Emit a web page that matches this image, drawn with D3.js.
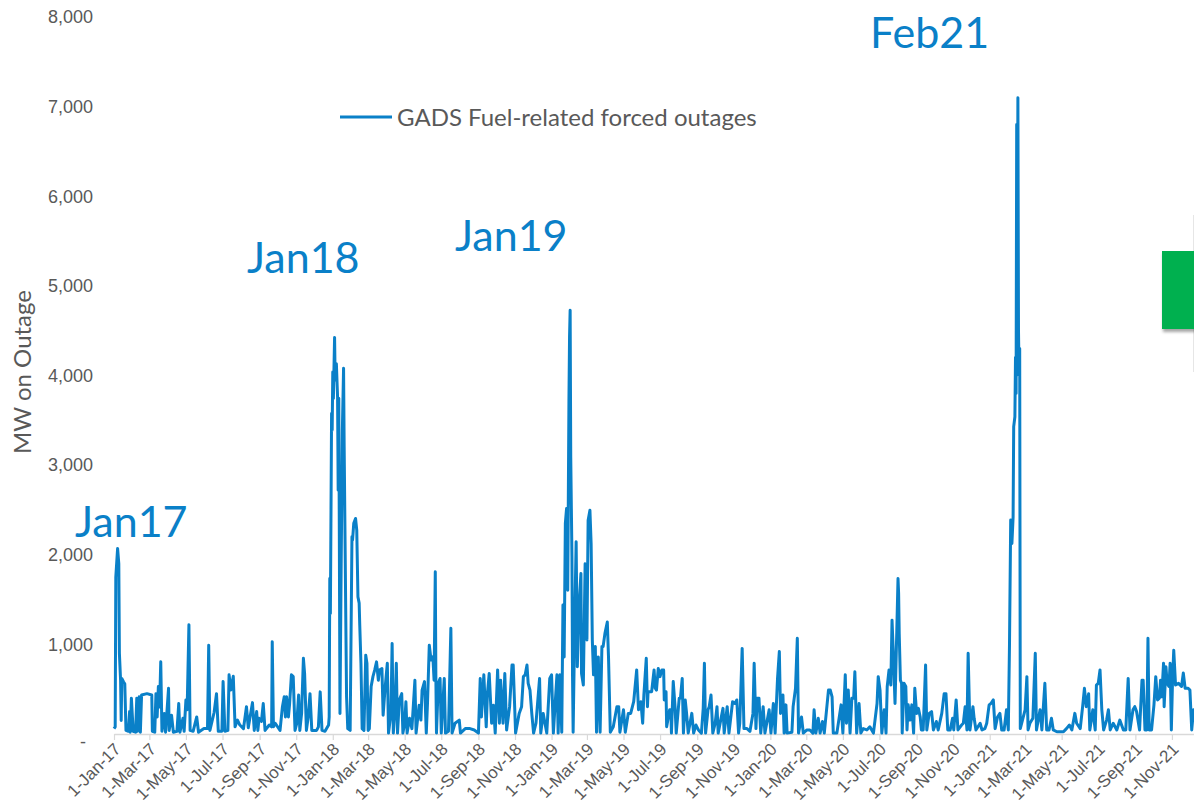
<!DOCTYPE html>
<html>
<head>
<meta charset="utf-8">
<script src="https://cdn.jsdelivr.net/npm/d3@7"></script>
<style>
  body { margin: 0; background: #fff; }
  svg { display: block; font-family: Lato, "Open Sans", sans-serif; }
</style>
</head>
<body>
<svg id="chart" width="1194" height="805"></svg>
<script>
// MW on outage (date, MW)
const mw2017 = [
  ["2017-01-01",60],["2017-01-03",80],["2017-01-04",1750],["2017-01-07",2070],["2017-01-09",1900],["2017-01-10",900],
  ["2017-01-12",600],["2017-01-13",150],["2017-01-14",620],["2017-01-17",580],["2017-01-19",560],["2017-01-21",40],
  ["2017-01-25",30],["2017-01-27",250],["2017-01-28",20],["2017-01-30",400],["2017-02-02",30],["2017-02-06",20],
  ["2017-02-08",400],["2017-02-09",30],["2017-02-12",415],["2017-02-14",20],["2017-02-16",435],["2017-02-25",450],
  ["2017-03-05",435],["2017-03-06",30],["2017-03-10",20],["2017-03-12",450],["2017-03-14",190],["2017-03-16",530],
  ["2017-03-18",300],["2017-03-20",805],["2017-03-22",30],["2017-03-26",230],["2017-03-28",20],["2017-04-02",510],
  ["2017-04-03",40],["2017-04-07",210],["2017-04-10",20],["2017-04-16",30],["2017-04-19",340],["2017-04-21",20],
  ["2017-04-26",175],["2017-04-28",30],["2017-05-01",380],["2017-05-03",270],["2017-05-06",1220],["2017-05-08",40],
  ["2017-05-13",30],["2017-05-19",190],["2017-05-22",20],["2017-05-31",60],["2017-06-06",60],["2017-06-08",990],
  ["2017-06-10",40],["2017-06-17",240],["2017-06-21",450],["2017-06-24",30],["2017-06-30",30],["2017-07-02",585],
  ["2017-07-05",30],["2017-07-10",40],["2017-07-12",660],["2017-07-15",490],["2017-07-19",645],["2017-07-22",80],
  ["2017-07-26",155],["2017-07-30",100],["2017-08-05",60],["2017-08-10",305],["2017-08-13",70],["2017-08-20",350],
  ["2017-08-23",40],["2017-08-27",250],["2017-08-29",40],["2017-08-31",175],["2017-09-04",140],["2017-09-07",340],
  ["2017-09-10",40],["2017-09-17",100],["2017-09-21",80],["2017-09-22",1030],["2017-09-24",80],["2017-09-27",120],
  ["2017-10-05",40],["2017-10-09",305],["2017-10-12",415],["2017-10-14",190],["2017-10-16",415],["2017-10-19",190],
  ["2017-10-21",340],["2017-10-24",660],["2017-10-27",640],["2017-10-30",40],["2017-11-02",120],["2017-11-05",435],
  ["2017-11-07",40],["2017-11-10",230],["2017-11-13",845],["2017-11-15",675],["2017-11-18",40],["2017-11-21",190],
  ["2017-11-24",450],["2017-11-27",40],["2017-12-05",40],["2017-12-08",80],["2017-12-11",470],["2017-12-14",40],
  ["2017-12-19",30],["2017-12-25",100],["2017-12-26",190],["2017-12-27",1736],["2017-12-28",1345],["2017-12-30",3576],
  ["2017-12-31",3390]
];
const mw2018 = [
  ["2018-01-01",4040],["2018-01-02",3745],["2018-01-04",4424],["2018-01-05",3950],["2018-01-07",4130],["2018-01-09",3760],
  ["2018-01-10",2720],["2018-01-11",3745],["2018-01-12",2090],["2018-01-13",230],["2018-01-15",1900],["2018-01-17",3390],
  ["2018-01-19",4080],["2018-01-20",3200],["2018-01-23",1085],["2018-01-24",415],["2018-01-26",60],["2018-01-30",40],
  ["2018-02-02",2200],["2018-02-03",2165],["2018-02-05",2350],["2018-02-08",2405],["2018-02-10",2275],["2018-02-12",1530],
  ["2018-02-14",1460],["2018-02-15",1215],["2018-02-17",790],["2018-02-19",60],["2018-02-22",40],["2018-02-25",880],
  ["2018-02-27",790],["2018-03-01",40],["2018-03-03",60],["2018-03-06",530],["2018-03-09",640],["2018-03-12",715],
  ["2018-03-15",805],["2018-03-18",600],["2018-03-20",713],["2018-03-24",730],["2018-03-26",210],["2018-03-29",490],
  ["2018-04-02",790],["2018-04-04",10],["2018-04-08",230],["2018-04-10",1010],["2018-04-12",10],["2018-04-15",300],
  ["2018-04-17",790],["2018-04-19",10],["2018-04-22",380],["2018-04-26",450],["2018-04-28",10],["2018-05-01",120],
  ["2018-05-03",360],["2018-05-05",10],["2018-05-09",175],["2018-05-13",60],["2018-05-18",600],["2018-05-20",10],
  ["2018-05-25",320],["2018-05-28",155],["2018-05-30",490],["2018-06-03",585],["2018-06-06",10],["2018-06-08",340],
  ["2018-06-11",990],["2018-06-14",825],["2018-06-17",860],["2018-06-19",600],["2018-06-21",1810],["2018-06-22",620],
  ["2018-06-23",10],["2018-06-26",565],["2018-06-29",620],["2018-07-01",10],["2018-07-06",620],["2018-07-08",10],
  ["2018-07-13",30],["2018-07-17",1180],["2018-07-19",10],["2018-07-24",120],["2018-07-31",155],["2018-08-02",10],
  ["2018-08-10",60],["2018-08-18",60],["2018-08-25",45],["2018-09-01",10],["2018-09-04",620],["2018-09-06",190],
  ["2018-09-10",660],["2018-09-14",80],["2018-09-16",450],["2018-09-19",675],["2018-09-23",120],["2018-09-26",320],
  ["2018-09-29",10],["2018-10-03",715],["2018-10-06",120],["2018-10-08",600],["2018-10-12",120],["2018-10-15",675],
  ["2018-10-18",45],["2018-10-23",305],["2018-10-27",770],["2018-10-29",770],["2018-11-02",10],["2018-11-05",120],
  ["2018-11-08",230],["2018-11-12",305],["2018-11-15",640],["2018-11-18",660],["2018-11-21",770],["2018-11-23",565],
  ["2018-11-26",490],["2018-11-29",230],["2018-12-02",10],["2018-12-06",120],["2018-12-12",620],["2018-12-14",10],
  ["2018-12-18",230],["2018-12-24",10],["2018-12-29",620]
];
const mw2019 = [
  ["2019-01-01",660],["2019-01-04",10],["2019-01-10",660],["2019-01-12",10],["2019-01-15",660],["2019-01-18",20],
  ["2019-01-20",1440],["2019-01-22",860],["2019-01-24",2350],["2019-01-26",2515],["2019-01-28",1605],["2019-01-30",3720],
  ["2019-01-31",4430],["2019-02-01",4727],["2019-02-02",3090],["2019-02-04",1980],["2019-02-05",640],["2019-02-06",20],
  ["2019-02-09",1380],["2019-02-11",2145],["2019-02-13",750],["2019-02-16",1457],["2019-02-19",1790],["2019-02-20",675],
  ["2019-02-23",546],["2019-02-26",1900],["2019-03-01",1050],["2019-03-03",2385],["2019-03-06",2497],["2019-03-08",2125],
  ["2019-03-10",1050],["2019-03-12",660],["2019-03-15",975],["2019-03-17",20],["2019-03-20",860],["2019-03-23",20],
  ["2019-03-26",975],["2019-03-28",975],["2019-03-31",1120],["2019-04-04",1250],["2019-04-06",860],["2019-04-09",20],
  ["2019-04-14",80],["2019-04-20",305],["2019-04-23",305],["2019-04-25",20],["2019-05-01",270],["2019-05-04",20],
  ["2019-05-09",230],["2019-05-13",230],["2019-05-18",360],["2019-05-23",715],["2019-05-26",270],["2019-05-30",360],
  ["2019-06-02",120],["2019-06-04",435],["2019-06-08",845],["2019-06-10",305],["2019-06-11",472],["2019-06-17",472],
  ["2019-06-21",715],["2019-06-23",510],["2019-06-25",490],["2019-06-28",730],["2019-07-01",640],["2019-07-04",715],
  ["2019-07-07",715],["2019-07-08",380],["2019-07-11",472],["2019-07-12",80],["2019-07-17",270],["2019-07-19",270],
  ["2019-07-20",10],["2019-07-23",585],["2019-07-26",305],["2019-07-28",10],["2019-08-02",400],["2019-08-04",400],
  ["2019-08-07",620],["2019-08-09",10],["2019-08-12",380],["2019-08-14",250],["2019-08-17",10],["2019-08-23",230],
  ["2019-08-26",10],["2019-08-30",100],["2019-09-03",45],["2019-09-08",10],["2019-09-11",286],["2019-09-13",790],
  ["2019-09-15",10],["2019-09-19",270],["2019-09-21",305],["2019-09-24",435],["2019-09-27",10],["2019-10-01",120],
  ["2019-10-04",305],["2019-10-06",10],["2019-10-14",286],["2019-10-16",10],["2019-10-21",305],["2019-10-24",10],
  ["2019-10-30",360],["2019-11-03",340],["2019-11-06",380],["2019-11-09",10],["2019-11-11",120],["2019-11-15",955],
  ["2019-11-18",60],["2019-11-23",60],["2019-11-28",30],["2019-12-03",230],["2019-12-05",790],["2019-12-08",60],
  ["2019-12-10",400],["2019-12-13",400],["2019-12-16",10],["2019-12-20",305],["2019-12-23",10],["2019-12-30",270]
];
const mw2020 = [
  ["2020-01-02",10],["2020-01-06",340],["2020-01-09",10],["2020-01-13",620],["2020-01-16",920],["2020-01-18",230],
  ["2020-01-22",435],["2020-01-24",10],["2020-01-27",325],["2020-01-29",10],["2020-02-06",20],["2020-02-08",305],
  ["2020-02-12",510],["2020-02-15",1067],["2020-02-17",10],["2020-02-22",190],["2020-02-25",10],["2020-03-02",45],
  ["2020-03-07",45],["2020-03-12",10],["2020-03-14",270],["2020-03-17",10],["2020-03-21",175],["2020-03-24",10],
  ["2020-03-28",140],["2020-03-31",10],["2020-04-07",490],["2020-04-10",490],["2020-04-13",415],["2020-04-15",10],
  ["2020-04-21",10],["2020-04-28",325],["2020-05-01",10],["2020-05-05",660],["2020-05-07",120],["2020-05-10",490],
  ["2020-05-13",10],["2020-05-16",400],["2020-05-19",400],["2020-05-21",695],["2020-05-24",10],["2020-05-28",340],
  ["2020-05-31",10],["2020-06-04",60],["2020-06-10",45],["2020-06-15",80],["2020-06-21",10],["2020-06-27",340],
  ["2020-06-29",640],["2020-07-02",490],["2020-07-05",10],["2020-07-09",270],["2020-07-12",10],["2020-07-14",530],
  ["2020-07-17",715],["2020-07-20",546],["2020-07-22",1270],["2020-07-24",935],["2020-07-27",340],["2020-07-30",1160],
  ["2020-08-01",1735],["2020-08-02",1570],["2020-08-03",1120],["2020-08-05",600],["2020-08-07",565],["2020-08-08",10],
  ["2020-08-11",565],["2020-08-14",530],["2020-08-16",45],["2020-08-18",325],["2020-08-21",155],["2020-08-24",325],
  ["2020-08-27",10],["2020-08-29",510],["2020-09-01",230],["2020-09-04",286],["2020-09-07",190],["2020-09-09",45],
  ["2020-09-12",45],["2020-09-16",770],["2020-09-18",45],["2020-09-22",230],["2020-09-26",250],["2020-09-29",45],
  ["2020-10-04",140],["2020-10-07",45],["2020-10-13",230],["2020-10-17",450],["2020-10-20",450],["2020-10-23",45],
  ["2020-10-27",45],["2020-10-31",175],["2020-11-02",45],["2020-11-06",380],["2020-11-09",45],["2020-11-15",100],
  ["2020-11-18",120],["2020-11-21",305],["2020-11-24",45],["2020-11-26",900],["2020-11-29",45],["2020-12-04",305],
  ["2020-12-06",175],["2020-12-09",45],["2020-12-16",120],["2020-12-19",45],["2020-12-24",60],["2020-12-27",120],
  ["2020-12-31",325]
];
const mw2021 = [
  ["2021-01-03",340],["2021-01-07",380],["2021-01-10",60],["2021-01-14",190],["2021-01-18",230],["2021-01-21",45],
  ["2021-01-25",45],["2021-01-29",270],["2021-02-01",45],["2021-02-03",1010],["2021-02-05",2387],["2021-02-07",2126],
  ["2021-02-09",2420],["2021-02-10",3430],["2021-02-12",3540],["2021-02-13",4200],["2021-02-14",3800],["2021-02-15",6800],
  ["2021-02-16",5000],["2021-02-17",7100],["2021-02-18",4500],["2021-02-19",4000],["2021-02-20",4300],["2021-02-21",60],
  ["2021-03-01",270],["2021-03-04",640],["2021-03-06",45],["2021-03-09",120],["2021-03-14",175],["2021-03-18",900],
  ["2021-03-20",45],["2021-03-26",270],["2021-03-29",45],["2021-04-03",565],["2021-04-06",45],["2021-04-10",45],
  ["2021-04-14",175],["2021-04-17",45],["2021-04-23",25],["2021-04-28",25],["2021-05-04",25],["2021-05-09",60],
  ["2021-05-14",100],["2021-05-18",45],["2021-05-23",230],["2021-05-26",120],["2021-06-01",60],["2021-06-05",305],
  ["2021-06-08",510],["2021-06-11",305],["2021-06-15",450],["2021-06-17",45],["2021-06-22",270],["2021-06-26",45],
  ["2021-06-28",546],["2021-07-01",565],["2021-07-04",715],["2021-07-07",270],["2021-07-10",45],["2021-07-15",155],
  ["2021-07-18",270],["2021-07-21",45],["2021-07-26",120],["2021-08-01",45],["2021-08-06",155],["2021-08-12",45],
  ["2021-08-16",45],["2021-08-20",620],["2021-08-23",45],["2021-08-28",270],["2021-08-31",305],["2021-09-03",250],
  ["2021-09-08",45],["2021-09-12",600],["2021-09-14",600],["2021-09-17",45],["2021-09-20",45],["2021-09-22",1067],
  ["2021-09-24",45],["2021-09-28",45],["2021-10-02",325],["2021-10-05",640],["2021-10-08",380],["2021-10-11",400],
  ["2021-10-13",600],["2021-10-15",415],["2021-10-18",790],["2021-10-19",305],["2021-10-22",750],["2021-10-24",565],
  ["2021-10-27",530],["2021-10-29",790],["2021-10-31",45],["2021-11-02",600],["2021-11-04",935],["2021-11-07",546],
  ["2021-11-12",565],["2021-11-17",530],["2021-11-20",680],["2021-11-23",510],["2021-11-28",510],["2021-12-01",490],
  ["2021-12-04",45],["2021-12-07",270],["2021-12-10",270]
];

const yTicks = [0, 1000, 2000, 3000, 4000, 5000, 6000, 7000, 8000];
const xDomain = ["2017-01-01", "2021-12-31"];
const seriesName = "GADS Fuel-related forced outages";
const yTitle = "MW on Outage";
const callouts = ["Jan17", "Jan18", "Jan19", "Feb21"];

const parse = d3.timeParse("%Y-%m-%d");
const data = [...mw2017, ...mw2018, ...mw2019, ...mw2020, ...mw2021]
  .map(([d, v]) => ({ date: parse(d), value: v }));

const [w, h] = [1194, 805];
const blue = '#0a80c8';
const grey = '#595959';
const x0 = 114, pxPerDay = 0.5994;
const x = d3.scaleTime()
  .domain(xDomain.map(parse))
  .range([x0, x0 + pxPerDay * d3.timeDay.count(parse(xDomain[0]), parse(xDomain[1]))]);
const y = d3.scaleLinear().domain([0, 8000]).range([734, 17]);

const svg = d3.select('#chart');
svg.append('rect').attr('width', w).attr('height', h).attr('fill', '#fff');

// drop shadow for the green box
const defs = svg.append('defs');
const f = defs.append('filter').attr('id', 'shadow')
  .attr('x', '-20%').attr('y', '-20%').attr('width', '140%').attr('height', '140%');
f.append('feDropShadow').attr('dx', 1).attr('dy', 3).attr('stdDeviation', 1.5)
  .attr('flood-color', '#000').attr('flood-opacity', 0.35);

// x axis
const xAxis = d3.axisBottom(x)
  .ticks(d3.timeMonth.every(2))
  .tickFormat(d3.timeFormat('%-d-%b-%y'))
  .tickSize(6).tickSizeOuter(0);
const gx = svg.append('g').attr('transform', `translate(0, ${y(0)})`).call(xAxis);
gx.select('.domain').attr('stroke', '#d9d9d9').attr('stroke-width', 1.5);
gx.selectAll('.tick line').attr('stroke', '#d9d9d9').attr('stroke-width', 1.2);
gx.selectAll('.tick text')
  .attr('fill', grey).attr('font-size', 17)
  .attr('text-anchor', 'end')
  .attr('transform', 'translate(3, 12) rotate(-45)')
  .attr('dy', '0.35em').attr('y', 0).attr('x', 0);

// y axis (labels only)
const yAxis = d3.axisLeft(y).tickValues(yTicks)
  .tickFormat(d => d === 0 ? '-' : d3.format(',')(d))
  .tickSize(0).tickPadding(21);
const gy = svg.append('g').attr('transform', `translate(${x0}, 0)`).call(yAxis);
gy.select('.domain').remove();
gy.selectAll('.tick text').attr('fill', grey).attr('font-size', 18);
gy.selectAll('.tick text').filter(d => d === 0).attr('dx', -7).attr('dy', '0.75em');

svg.append('text')
  .attr('transform', `translate(31, 372) rotate(-90)`)
  .attr('text-anchor', 'middle')
  .attr('fill', grey).attr('font-size', 24)
  .text(yTitle);

// series
const line = d3.line().x(d => x(d.date)).y(d => y(d.value));
svg.append('path').datum(data)
  .attr('d', line)
  .attr('fill', 'none').attr('stroke', blue)
  .attr('stroke-width', 3).attr('stroke-linejoin', 'round');

// legend
svg.append('line').attr('x1', 340).attr('x2', 392).attr('y1', 117).attr('y2', 117)
  .attr('stroke', blue).attr('stroke-width', 3);
svg.append('text').attr('x', 397).attr('y', 126)
  .attr('fill', grey).attr('font-size', 24).text(seriesName);

// callouts
const calloutPos = [[75, 537], [247, 273], [455, 251], [870, 48]];
svg.selectAll('text.callout').data(callouts).join('text')
  .attr('class', 'callout')
  .attr('x', (d, i) => calloutPos[i][0]).attr('y', (d, i) => calloutPos[i][1])
  .attr('fill', blue).attr('font-size', 43)
  .text(d => d);

// green box at right edge (cut off)
svg.append('line').attr('x1', 1193.5).attr('x2', 1193.5).attr('y1', 215).attr('y2', 372)
  .attr('stroke', '#e6e6e6').attr('stroke-width', 1);
svg.append('rect').attr('x', 1162).attr('y', 251).attr('width', 40).attr('height', 78)
  .attr('fill', '#00b050').attr('filter', 'url(#shadow)');
</script>
</body>
</html>
